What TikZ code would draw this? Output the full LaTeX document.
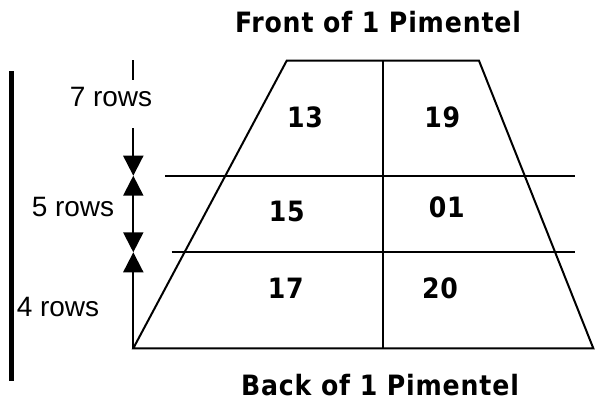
\documentclass[tikz,border=0pt]{standalone}
\usepackage{fontspec}
\setmainfont{DejaVu Sans}
\newfontfamily\lblfont{Liberation Sans}
\newfontfamily\numfont[LetterSpace=3]{DejaVu Sans Condensed Bold}
\usetikzlibrary{arrows.meta}
\tikzset{
  ln/.style={line width=2pt, line cap=butt},
  tip/.style={-{Triangle[width=20pt,length=20pt]}},
  dtip/.style={{Triangle[width=20pt,length=20pt]}-{Triangle[width=20pt,length=20pt]}},
  num/.style={font=\numfont\fontsize{28}{30}\selectfont, inner sep=0pt},
  title/.style={font=\numfont\fontsize{28}{30}\selectfont, inner sep=0pt},
  rows/.style={font=\lblfont\fontsize{28}{30}\selectfont, inner sep=0pt},
}
\begin{document}
\begin{tikzpicture}[x=1pt,y=-1pt]
\useasboundingbox (0,0) rectangle (597,405);
% corners
\coordinate (tl) at (286.7,60.7);
\coordinate (tr) at (479,60.7);
\coordinate (bl) at (133.3,348.3);
\coordinate (br) at (593.3,348.3);
\coordinate (mt) at (383.3,60.7);
\coordinate (mb) at (383.3,348.3);
\coordinate (h1a) at (165,175.7);
\coordinate (h1b) at (575,175.7);
\coordinate (h2a) at (171.7,252.3);
\coordinate (h2b) at (575,252.3);
\draw[ln, line join=miter] (tl) -- (tr) -- (br) -- (bl) -- cycle;
\draw[ln] (mt) -- (mb);
\draw[ln] (h1a) -- (h1b);
\draw[ln] (h2a) -- (h2b);
% left dimension arrows
\coordinate (k0) at (133.3,60);
\coordinate (k1) at (133.3,80);
\coordinate (a0) at (133.3,128);
\coordinate (a1) at (133.3,175.7);
\coordinate (a2) at (133.3,252.3);
\draw[ln] (k0) -- (k1);
\draw[ln, tip] (a0) -- (a1);
\draw[ln, dtip] (a1) -- (a2);
\draw[ln, tip] (bl) -- (a2);
% thick bar
\coordinate (b0) at (11.5,71);
\coordinate (b1) at (11.5,381);
\draw[line width=5pt] (b0) -- (b1);
% labels
\node[rows] (r7) at (111,97) {7 rows};
\node[rows] (r5) at (73,207) {5 rows};
\node[rows] (r4) at (58,307) {4 rows};
\node[num] (n13) at (305,117) {13};
\node[num] (n19) at (442.3,117) {19};
\node[num] (n15) at (286.7,211) {15};
\node[num] (n01) at (446.7,207) {01};
\node[num] (n17) at (285.7,288) {17};
\node[num] (n20) at (440,288) {20};
\node[title] (front) at (378,22) {Front of 1 Pimentel};
\node[title] (back) at (380,385) {Back of 1 Pimentel};
\end{tikzpicture}
\end{document}
